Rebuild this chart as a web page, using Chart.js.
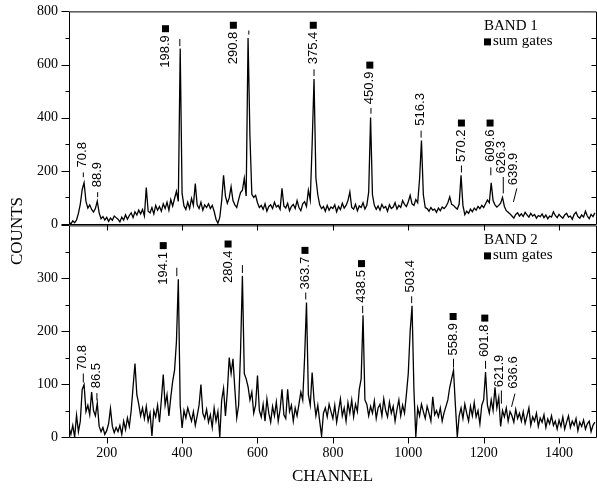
<!DOCTYPE html>
<html>
<head>
<meta charset="utf-8">
<script src="https://cdn.jsdelivr.net/npm/chart.js@4.4.1/dist/chart.umd.min.js"></script>
<style>
  html, body { margin: 0; padding: 0; background: #fff; }
  #wrap { position: relative; width: 597px; height: 489px; }
  canvas { position: absolute; left: 0; }
  #top { top: 0; }
  #bot { top: 214px; }
  #counts {
    position: absolute; left: 17px; top: 231px;
    transform: translate(-50%, -50%) rotate(-90deg);
    font: 17px "Liberation Serif", "Times New Roman", serif;
    white-space: nowrap; color: #000;
  }
</style>
</head>
<body>
<div id="wrap">
  <canvas id="top" width="597" height="240" style="width:597px;height:240px"></canvas>
  <canvas id="bot" width="597" height="275" style="width:597px;height:275px"></canvas>
  <div id="counts">COUNTS</div>
</div>
<script>
// --- data (channels 100..1495, every 5th channel) ---
const CH_START = 100;
const CH_STEP = 5;

const band1Counts = [
  8, 0, 12, 5, 15, 40, 75, 130, 155, 85, 60, 72, 55, 45, 58, 86, 42, 20, 28, 15,
  25, 10, 22, 14, 30, 24, 18, 8, 26, 15, 35, 18, 32, 42, 24, 46, 34, 52, 38, 55,
  30, 137, 48, 42, 62, 38, 70, 52, 66, 48, 76, 58, 82, 52, 92, 68, 96, 123, 85, 660,
  115, 68, 55, 82, 58, 96, 70, 152, 72, 58, 82, 52, 72, 62, 76, 58, 70, 48, 18, 3,
  25, 88, 183, 105, 78, 98, 140, 88, 72, 62, 92, 118, 127, 172, 105, 700, 330, 112, 100, 108,
  80, 62, 70, 55, 76, 48, 66, 72, 58, 82, 64, 70, 55, 134, 68, 60, 78, 50, 66, 74,
  58, 88, 62, 50, 76, 84, 66, 127, 90, 300, 546, 172, 110, 72, 58, 66, 48, 70, 52, 64,
  58, 72, 46, 66, 54, 78, 60, 70, 88, 121, 62, 56, 74, 50, 68, 62, 80, 56, 70, 120,
  401, 110, 70, 55, 68, 52, 74, 60, 66, 48, 72, 58, 64, 80, 56, 70, 62, 88, 74, 66,
  84, 108, 76, 70, 92, 80, 170, 314, 110, 62, 58, 48, 62, 52, 56, 44, 60, 50, 64, 58,
  66, 80, 102, 74, 70, 62, 56, 75, 183, 70, 35, 48, 40, 56, 46, 60, 52, 66, 58, 70,
  62, 76, 90, 80, 155, 88, 72, 64, 70, 78, 100, 66, 50, 44, 38, 30, 22, 36, 42, 30,
  38, 28, 44, 34, 26, 40, 30, 36, 22, 32, 28, 38, 24, 34, 20, 30, 26, 46, 32, 24,
  36, 28, 22, 34, 40, 26, 30, 18, 36, 44, 28, 22, 34, 26, 48, 30, 20, 36, 28, 42
];

const band2Counts = [
  18, 5, 22, 0, 41, 10, 30, 90, 99, 48, 60, 42, 85, 50, 40, 64, 20, 10, 18, 5,
  12, 25, 54, 20, 8, 18, 10, 22, 5, 30, 14, 36, 20, 50, 95, 139, 80, 62, 40, 55,
  35, 58, 30, 45, 2, 50, 38, 60, 28, 70, 118, 60, 80, 40, 75, 105, 126, 180, 298, 60,
  17, 50, 36, 55, 42, 30, 48, 22, 40, 60, 99, 45, 35, 52, 28, 42, 18, 55, 30, 48,
  0, 70, 92, 40, 85, 150, 120, 148, 90, 36, 60, 160, 305, 120, 110, 95, 70, 85, 45, 60,
  116, 50, 38, 62, 30, 72, 45, 28, 58, 40, 66, 30, 52, 90, 42, 35, 90, 48, 60, 30,
  55, 40, 62, 85, 70, 150, 254, 80, 60, 122, 70, 40, 60, 30, 2, 45, 55, 38, 62, 48,
  35, 60, 28, 50, 72, 40, 55, 30, 65, 45, 70, 38, 62, 48, 90, 110, 230, 70, 62, 40,
  58, 45, 68, 35, 55, 62, 40, 72, 50, 38, 66, 45, 58, 30, 52, 70, 40, 60, 45, 80,
  120, 200, 248, 90, 0, 55, 40, 62, 48, 35, 58, 45, 30, 76, 42, 50, 38, 55, 30, 46,
  58, 70, 94, 110, 126, 60, 0, 40, 55, 35, 62, 45, 30, 58, 40, 65, 38, 50, 25, 60,
  70, 123, 60, 45, 70, 50, 94, 55, 75, 20, 50, 38, 55, 30, 48, 40, 28, 52, 35, 45,
  30, 48, 26, 40, 55, 22, 38, 30, 45, 20, 36, 28, 42, 18, 34, 25, 40, 22, 30, 15,
  32, 20, 38, 15, 28, 40, 18, 30, 22, 35, 12, 28, 20, 32, 15, 25, 30, 10, 22, 28
];

const channels = band1Counts.map((_, i) => CH_START + i * CH_STEP);

const xTicks = [200, 400, 600, 800, 1000, 1200, 1400];
const band1YTicks = [0, 200, 400, 600, 800];
const band2YTicks = [0, 100, 200, 300];

// peak labels (energies in keV), placed in channel / count units
const band1Marks = [
  { text: '70.8',  x: 136,  y: 213, dash: [138, 194, 138, 176] },
  { text: '88.9',  x: 176,  y: 138, dash: [176, 120, 176, 101] },
  { text: '198.9', x: 356,  y: 588, dash: [394, 696, 394, 669], gate: true },
  { text: '290.8', x: 536,  y: 601, dash: [577, 728, 577, 713], gate: true },
  { text: '375.4', x: 748,  y: 601, dash: [750, 582, 750, 557], gate: true },
  { text: '450.9', x: 898,  y: 451, dash: [901, 437, 901, 415], gate: true },
  { text: '516.3', x: 1033, y: 370, dash: [1034, 351, 1034, 325] },
  { text: '570.2', x: 1141, y: 233, dash: [1141, 220, 1141, 194], gate: true },
  { text: '609.6', x: 1217, y: 233, dash: [1219, 213, 1219, 183], gate: true },
  { text: '626.3', x: 1246, y: 190, dash: [1252, 177, 1252, 115] },
  { text: '639.9', x: 1280, y: 146, dash: [1288, 134, 1279, 83] }
];

const band2Marks = [
  { text: '70.8',  x: 136,  y: 126, dash: [138, 120, 138, 103] },
  { text: '86.5',  x: 174,  y: 92,  dash: [174, 83, 174, 69] },
  { text: '194.1', x: 350,  y: 288, dash: [386, 320, 386, 304], gate: true },
  { text: '280.4', x: 522,  y: 291, dash: [560, 325, 560, 310], gate: true },
  { text: '363.7', x: 726,  y: 279, dash: [728, 273, 728, 260], gate: true },
  { text: '438.5', x: 876,  y: 254, dash: [879, 248, 879, 234], gate: true },
  { text: '503.4', x: 1006, y: 273, dash: [1009, 266, 1009, 253] },
  { text: '558.9', x: 1119, y: 154, dash: [1120, 148, 1120, 132], gate: true },
  { text: '601.8', x: 1203, y: 151, dash: [1205, 144, 1205, 129], gate: true },
  { text: '621.9', x: 1241, y: 94,  dash: [1247, 88, 1247, 63] },
  { text: '636.6', x: 1279, y: 91,  dash: [1283, 82, 1274, 57] }
];

const SERIF = '"Liberation Serif", "Times New Roman", serif';
const SANS = '"Liberation Sans", Arial, sans-serif';

// frame, tick marks, peak labels and the little legend
function decorPlugin(marks, band, yMax, yMinor, yMajor) {
  return {
    id: 'decor',
    afterDraw(chart) {
      const { ctx, chartArea: a, scales: { x, y } } = chart;
      const L = a.left + 0.5, R = a.right + 0.5, T = a.top + 0.5, B = a.bottom + 0.5;
      ctx.save();
      ctx.strokeStyle = '#000';
      ctx.fillStyle = '#000';
      ctx.lineWidth = 1;

      ctx.beginPath();
      ctx.rect(L, T, R - L, B - T);
      for (let v = 0; v <= yMax; v += yMinor) {
        const py = Math.round(y.getPixelForValue(v)) + 0.5;
        const len = v % yMajor === 0 ? 8 : 4;
        ctx.moveTo(L, py); ctx.lineTo(L - len, py);
        if (v > 0 && v < yMax) { ctx.moveTo(R, py); ctx.lineTo(R - 5, py); }
      }
      xTicks.forEach(v => {
        const px = Math.round(x.getPixelForValue(v)) + 0.5;
        ctx.moveTo(px, B); ctx.lineTo(px, B + 6);
      });
      ctx.stroke();

      // peak labels
      ctx.font = '13px ' + SANS;
      marks.forEach(m => {
        const px = x.getPixelForValue(m.x);
        const py = y.getPixelForValue(m.y);
        ctx.save();
        ctx.translate(px, py);
        ctx.rotate(-Math.PI / 2);
        ctx.textAlign = 'left';
        ctx.textBaseline = 'middle';
        ctx.fillText(m.text, 0, 0);
        if (m.gate) {
          const w = ctx.measureText(m.text).width;
          ctx.fillRect(w + 3, -3.5, 7, 7);
        }
        ctx.restore();
        ctx.beginPath();
        ctx.moveTo(x.getPixelForValue(m.dash[0]), y.getPixelForValue(m.dash[1]));
        ctx.lineTo(x.getPixelForValue(m.dash[2]), y.getPixelForValue(m.dash[3]));
        ctx.stroke();
      });

      // legend box
      const lx = a.right - 112;
      ctx.font = '15px ' + SERIF;
      ctx.textAlign = 'left';
      ctx.textBaseline = 'middle';
      ctx.fillText(band, lx, a.top + 15);
      ctx.fillRect(lx, a.top + 27, 7, 7);
      ctx.fillText('sum gates', lx + 9, a.top + 30);
      ctx.restore();
    }
  };
}

function makeChart(id, counts, yMax, yTicks, yMinor, yMajor, marks, band, xAxisH, showX) {
  return new Chart(document.getElementById(id), {
    type: 'line',
    data: {
      datasets: [{
        data: channels.map((c, i) => ({ x: c, y: counts[i] })),
        borderColor: '#000',
        borderWidth: 1.3,
        pointRadius: 0,
        tension: 0,
        fill: false
      }]
    },
    options: {
      responsive: false,
      animation: false,
      events: [],
      layout: { padding: { top: 10, right: 1, left: 0, bottom: 0 } },
      plugins: { legend: { display: false }, tooltip: { enabled: false } },
      scales: {
        x: {
          type: 'linear', min: 100, max: 1498,
          grid: { display: false, drawTicks: true, tickLength: 5 },
          border: { display: false },
          afterBuildTicks: s => { s.ticks = xTicks.map(v => ({ value: v })); },
          afterFit: s => { s.height = xAxisH; },
          ticks: {
            display: showX, autoSkip: false, maxRotation: 0, padding: 3, color: '#000',
            font: { family: SERIF, size: 14 },
            callback: v => String(v)
          },
          title: {
            display: showX, text: 'CHANNEL', color: '#000',
            font: { family: SERIF, size: 17 }, padding: { top: 0, bottom: 2 }
          }
        },
        y: {
          min: 0, max: yMax,
          grid: { display: false, drawTicks: true, tickLength: 8 },
          border: { display: false },
          afterBuildTicks: s => { s.ticks = yTicks.map(v => ({ value: v })); },
          afterFit: s => { s.width = 69; },
          ticks: {
            padding: 3, color: '#000',
            font: { family: SERIF, size: 14 },
            callback: v => String(v)
          }
        }
      }
    },
    plugins: [decorPlugin(marks, band, yMax, yMinor, yMajor)]
  });
}

makeChart('top', band1Counts, 800, band1YTicks, 100, 200, band1Marks, 'BAND 1', 16, false);
makeChart('bot', band2Counts, 400, band2YTicks, 50, 100, band2Marks, 'BAND 2', 52, true);
</script>
</body>
</html>
